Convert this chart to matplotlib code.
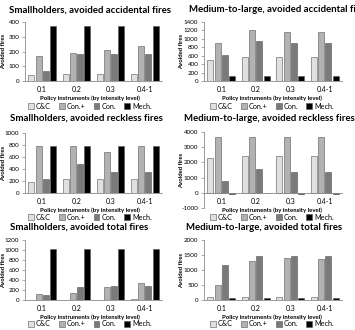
import matplotlib
matplotlib.use('Agg')
import matplotlib.pyplot as plt
import numpy as np

plt.rcParams.update({
    'font.family': ['Lato', 'DejaVu Sans'],
    'font.size': 5,
    'axes.unicode_minus': False,
})

levels = ['0.1', '0.2', '0.3', '0.4-1']
series = ['C&C', 'Con.+', 'Con.', 'Mech.']

# avoided fires per panel, one list per series (C&C, Con.+, Con., Mech.)
small_acc_cc = [40, 45, 45, 45]
small_acc_conp = [170, 190, 210, 240]
small_acc_con = [70, 185, 185, 185]
small_acc_mech = [370, 370, 370, 370]

med_acc_cc = [500, 570, 570, 570]
med_acc_conp = [910, 1200, 1170, 1170]
med_acc_con = [610, 950, 910, 910]
med_acc_mech = [110, 110, 130, 130]

small_rec_cc = [180, 230, 230, 230]
small_rec_conp = [780, 780, 680, 780]
small_rec_con = [240, 480, 350, 350]
small_rec_mech = [780, 780, 780, 780]

med_rec_cc = [2300, 2400, 2400, 2400]
med_rec_conp = [3700, 3700, 3700, 3700]
med_rec_con = [750, 1550, 1350, 1350]
med_rec_mech = [-100, -20, -100, -100]

small_tot_cc = [5, 10, 10, 15]
small_tot_conp = [115, 140, 270, 340]
small_tot_con = [100, 270, 285, 285]
small_tot_mech = [1020, 1020, 1020, 1020]

med_tot_cc = [100, 100, 100, 100]
med_tot_conp = [500, 1310, 1390, 1380]
med_tot_con = [1170, 1460, 1470, 1470]
med_tot_mech = [60, 60, 60, 60]

colors = ['#e0e0e0', '#b2b2b2', '#7a7a7a', '#000000']

W, H = 355, 330
fig = plt.figure(figsize=(W / 100, H / 100), dpi=100)


def px_rect(x0, y_top, x1, y_bot):
    return [x0 / W, 1 - y_bot / H, (x1 - x0) / W, (y_bot - y_top) / H]


def panel(rect, title, title_xy, vals, ylim, yticks, xlab_y, leg_y, cx, ylab_x):
    ax = fig.add_axes(rect)
    x = np.arange(len(levels))
    pitch = 0.21
    handles = []
    for i, (v, c) in enumerate(zip(vals, colors)):
        b = ax.bar(x + (i - 1.5) * pitch, v, 0.175, color=c,
                   edgecolor='#555555', linewidth=0.4, label=series[i])
        handles.append(b)
    ax.set_xlim(-0.5, 3.5)
    ax.set_ylim(*ylim)
    ax.set_yticks(yticks)
    ax.set_xticks(x)
    ax.set_xticklabels(levels, fontsize=5.3)
    for s in ['top', 'right']:
        ax.spines[s].set_visible(False)
    ax.spines['bottom'].set_position(('data', 0))
    for s in ['left', 'bottom']:
        ax.spines[s].set_color('#8a8a8a')
        ax.spines[s].set_linewidth(0.6)
    ax.tick_params(axis='y', labelsize=4.5, length=2, width=0.5,
                   color='#8a8a8a', pad=2)
    ax.tick_params(axis='x', length=0, pad=3.5)
    ax.set_ylabel('Avoided fires', fontsize=4.2, fontweight='bold')
    # fixed label position in pixels, like the reference
    ax.yaxis.set_label_coords((ylab_x - rect[0] * W) / (rect[2] * W), 0.5)
    fig.text(title_xy[0] / W, 1 - title_xy[1] / H, title, fontsize=6.9,
             fontweight='bold', ha='left', va='center')
    fig.text(cx / W, 1 - xlab_y / H, 'Policy instruments (by intensity level)',
             fontsize=4.3, fontweight='bold', ha='center', va='center')
    fig.legend(handles=handles, loc='center', ncol=4, frameon=False,
               bbox_to_anchor=(cx / W, 1 - leg_y / H), fontsize=5.2,
               handlelength=0.8, handleheight=0.8, handletextpad=0.3,
               columnspacing=1.1, borderpad=0)
    return ax


LX0, LX1 = 25, 162
RX0, RX1 = 204, 342
LC, RC = 90, 272
LY, RY = 6, 184

panel(px_rect(LX0, 22, LX1, 81), 'Smallholders, avoided accidental fires', (9, 10),
      [small_acc_cc, small_acc_conp, small_acc_con, small_acc_mech],
      (0, 400), [0, 100, 200, 300, 400], 98, 106, LC, LY)
panel(px_rect(RX0, 22, RX1, 81), 'Medium-to-large, avoided accidental fires', (189, 10),
      [med_acc_cc, med_acc_conp, med_acc_con, med_acc_mech],
      (0, 1400), list(range(0, 1401, 200)), 98, 106, RC, RY)

panel(px_rect(LX0, 133, LX1, 193), 'Smallholders, avoided reckless fires', (10, 118),
      [small_rec_cc, small_rec_conp, small_rec_con, small_rec_mech],
      (0, 1000), list(range(0, 1001, 200)), 210, 217, LC, LY)
panel(px_rect(RX0, 132, RX1, 208), 'Medium-to-large, avoided reckless fires', (184, 118),
      [med_rec_cc, med_rec_conp, med_rec_con, med_rec_mech],
      (-1000, 4000), list(range(-1000, 4001, 1000)), 210, 217, RC, RY)

panel(px_rect(LX0, 240, LX1, 300), 'Smallholders, avoided total fires', (10, 227),
      [small_tot_cc, small_tot_conp, small_tot_con, small_tot_mech],
      (0, 1200), list(range(0, 1201, 200)), 317, 324, LC, LY)
panel(px_rect(RX0, 240, RX1, 300), 'Medium-to-large, avoided total fires', (186, 227),
      [med_tot_cc, med_tot_conp, med_tot_con, med_tot_mech],
      (0, 2000), list(range(0, 2001, 500)), 317, 324, RC, RY)

fig.savefig('out.png', dpi=100)
